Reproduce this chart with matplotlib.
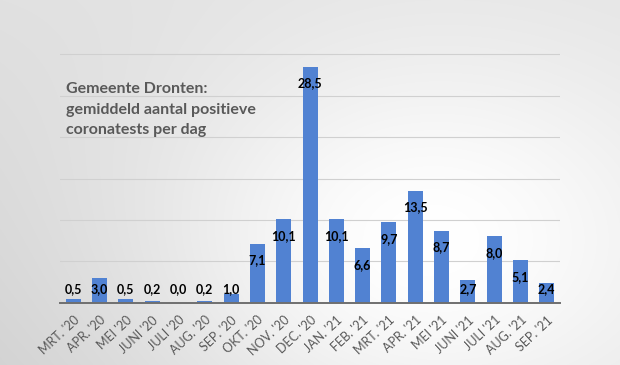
import numpy as np
import matplotlib
matplotlib.use("Agg")
import matplotlib.pyplot as plt

# data
months = ["MRT. '20", "APR. '20", "MEI '20", "JUNI '20", "JULI '20", "AUG. '20",
          "SEP. '20", "OKT. '20", "NOV. '20", "DEC. '20", "JAN. '21", "FEB. '21",
          "MRT. '21", "APR. '21", "MEI '21", "JUNI '21", "JULI '21", "AUG. '21",
          "SEP. '21"]
values = [0.5, 3.0, 0.5, 0.2, 0.0, 0.2, 1.0, 7.1, 10.1, 28.5, 10.1, 6.6,
          9.7, 13.5, 8.7, 2.7, 8.0, 5.1, 2.4]
title = "Gemeente Dronten:\ngemiddeld aantal positieve\ncoronatests per dag"

W, H = 620, 365
fig = plt.figure(figsize=(W / 100, H / 100), dpi=100)

# grey background with a light centre
bg = fig.add_axes([0, 0, 1, 1], zorder=-10)
yy, xx = np.mgrid[0:H, 0:W]
u = xx / W
v = yy / H
corners = (0.88 * (1 - u) * (1 - v) + 0.89 * u * (1 - v)
           + 0.82 * (1 - u) * v + 0.89 * u * v)
r2 = ((xx - 430) / 270.0) ** 2 + ((yy - 240) / 200.0) ** 2
gray = corners + (1 - corners) * np.exp(-r2)
bg.imshow(np.dstack([gray] * 3), aspect="auto", extent=[0, 1, 0, 1], origin="upper")
bg.axis("off")

ax = fig.add_axes([60 / W, 1 - 302.7 / H, 500 / W, 250 / H])
ax.patch.set_alpha(0)

x = np.arange(len(months))
ax.bar(x, values, width=0.57, color="#5182d2", zorder=3)

for xi, val in zip(x, values):
    ypos = max(val - 2.0, 1.6)
    ax.text(xi, ypos, f"{val:.1f}".replace(".", ","), ha="center", va="center",
            fontsize=9, fontweight="bold", color="black", family="Lato", zorder=4)

ax.set_xlim(-0.5, len(months) - 0.5)
ax.set_ylim(0, 30.2)
ax.set_yticks(np.arange(0, 31, 5))
ax.yaxis.grid(True, color="#d0d0d0", linewidth=0.8, zorder=0)
ax.tick_params(axis="y", left=False, labelleft=False)
ax.tick_params(axis="x", length=0, pad=8)
for s in ["top", "right", "left"]:
    ax.spines[s].set_visible(False)
ax.spines["bottom"].set_color("#6f6f6f")
ax.spines["bottom"].set_linewidth(1.4)
ax.spines["bottom"].set_zorder(5)

ax.set_xticks(x)
ax.set_xticklabels(months, rotation=43, ha="right", rotation_mode="anchor",
                   fontsize=9, color="#595959", family="Lato")

fig.text(66 / W, 1 - 82 / H, title, ha="left", va="top", fontsize=11.5,
         fontweight="bold", color="#595959", family="Lato", linespacing=1.6)

fig.savefig("out.png", dpi=100)
